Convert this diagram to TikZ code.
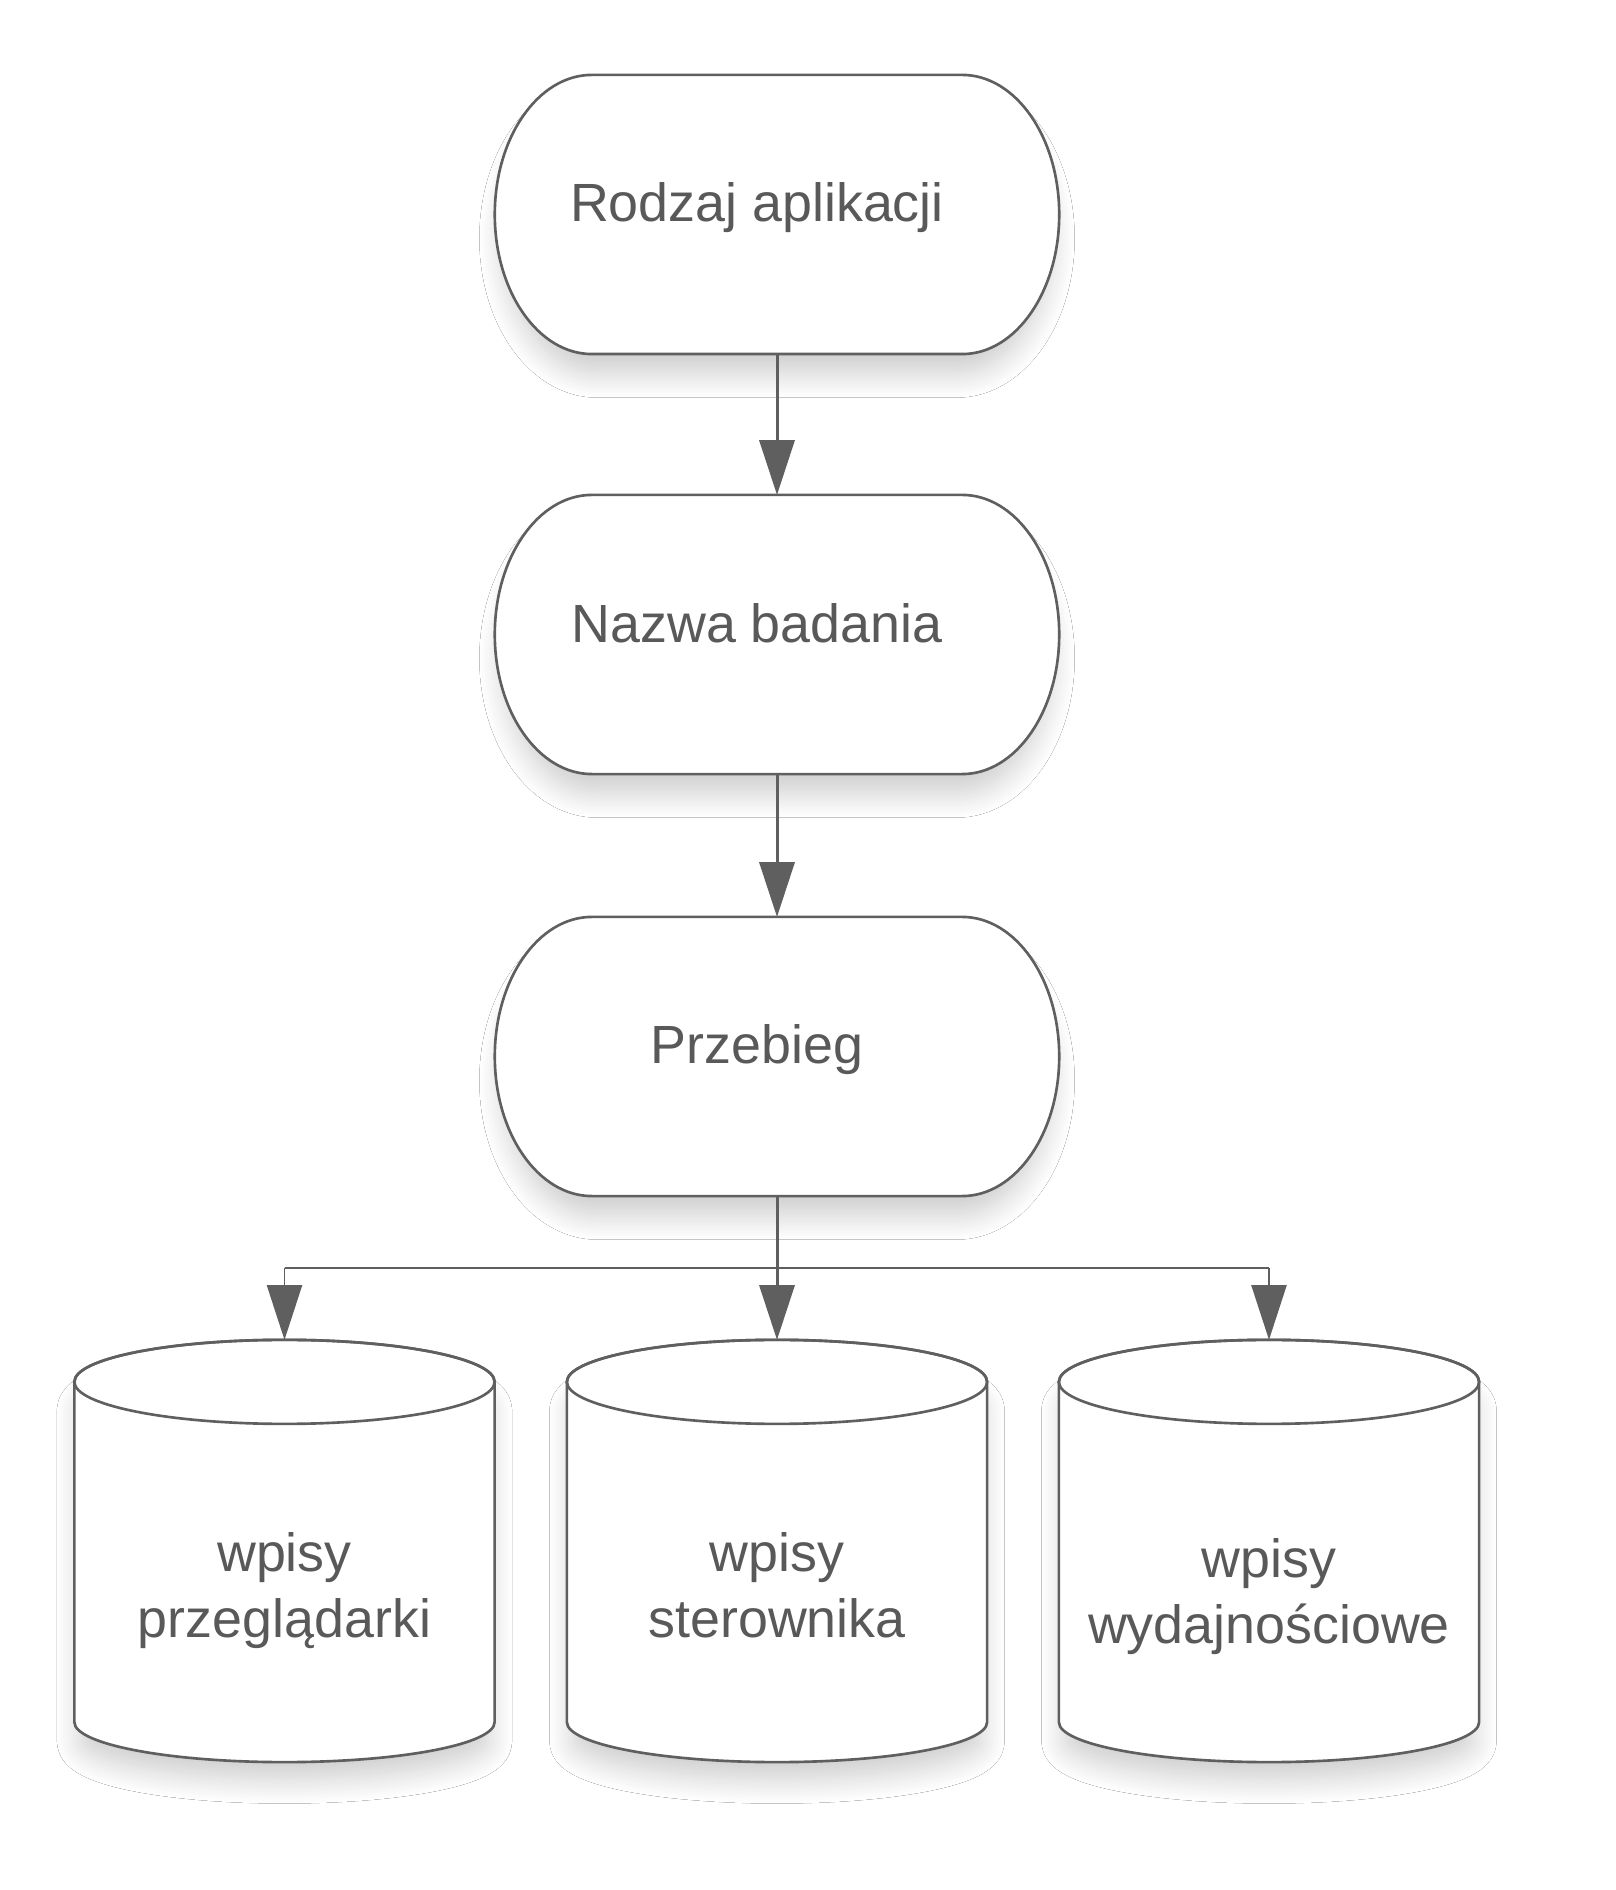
\documentclass[tikz,border=0pt]{standalone}
\usepackage{fontspec}
\setmainfont{Liberation Sans}
\usetikzlibrary{arrows.meta,calc,shadows.blur}
\definecolor{ln}{HTML}{5F5F5F}
\definecolor{tx}{HTML}{595959}
\begin{document}
\begin{tikzpicture}[x=0.01cm,y=0.01cm,
  flowbox/.style={draw=ln, line width=0.75pt, fill=white,
    blur shadow={shadow xshift=0pt, shadow yshift=-7pt, shadow scale=0.97,
      shadow blur radius=7pt, shadow blur steps=15, shadow opacity=20}},
  hitbox/.style={rectangle, draw=none, inner sep=0pt, outer sep=0pt},
  boxarea/.style={hitbox, minimum width=5.64cm, minimum height=2.79cm},
  cylarea/.style={hitbox, minimum width=4.2cm, minimum height=4.22cm},
  lbl/.style={text=tx, inner sep=0pt, font=\fontsize{15.3pt}{18.8pt}\selectfont, align=center},
  conn/.style={draw=ln, line width=0.85pt, -{Triangle[length=15.6pt,width=10pt]}},
  branch/.style={draw=ln, line width=0.55pt},
]
\useasboundingbox[fill=white] (0,0) rectangle (1616,1890);

% flow boxes (invisible hit areas)
\node[boxarea] (b1) at (777,1675.5) {};
\node[boxarea] (b2) at (777,1255.5) {};
\node[boxarea] (b3) at (777,833.5) {};

\foreach \b in {b1,b2,b3}{
  \path[flowbox] ($(\b.north west)+(97,0)$) -- ($(\b.north east)+(-97,0)$)
    arc[start angle=90,end angle=-90,x radius=0.97cm,y radius=1.395cm]
    -- ($(\b.south west)+(97,0)$)
    arc[start angle=270,end angle=90,x radius=0.97cm,y radius=1.395cm] -- cycle;
}

% cylinders (invisible hit areas)
\node[cylarea] (c1) at (284.5,339) {};
\node[cylarea] (c2) at (777,339) {};
\node[cylarea] (c3) at (1269,339) {};

\foreach \c in {c1,c2,c3}{
  \path[flowbox] ($(\c.north west)+(0,-42)$) -- ($(\c.south west)+(0,40)$)
    arc[start angle=180,end angle=360,x radius=2.1cm,y radius=0.4cm]
    -- ($(\c.north east)+(0,-42)$)
    arc[start angle=0,end angle=180,x radius=2.1cm,y radius=0.42cm] -- cycle;
  \draw[draw=ln, line width=0.75pt] ($(\c.north)+(0,-42)$) ellipse[x radius=2.1cm, y radius=0.42cm];
}

% labels
\node[lbl, anchor=base] (t1) at (757,1668) {Rodzaj aplikacji};
\node[lbl, anchor=base] (t2) at (757,1247) {Nazwa badania};
\node[lbl, anchor=base] (t3) at (757,826) {Przebieg};
\node[lbl, anchor=base] (t4) at (284.5,252) {wpisy\\przeglądarki};
\node[lbl, anchor=base] (t5) at (777,252) {wpisy\\sterownika};
\node[lbl, anchor=base] (t6) at (1269,246) {wpisy\\wydajnościowe};

% connectors
\coordinate (j) at (777,622);
\draw[conn] (b1.south) -- (b2.north);
\draw[conn] (b2.south) -- (b3.north);
\draw[conn] (b3.south) -- (c2.north);
\draw[branch] (c1.north |- j) -- (c3.north |- j);
\draw[conn, line width=0.55pt] (c1.north |- j) -- (c1.north);
\draw[conn, line width=0.55pt] (c3.north |- j) -- (c3.north);
\end{tikzpicture}
\end{document}
